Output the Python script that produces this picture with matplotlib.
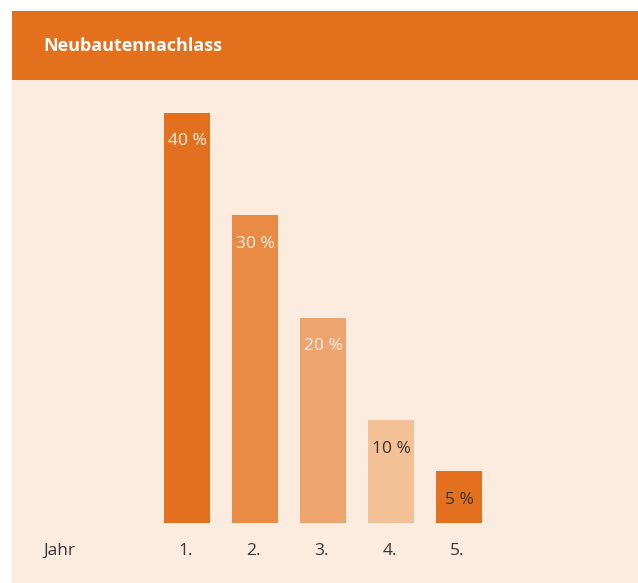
import matplotlib.pyplot as plt
from matplotlib.patches import Rectangle

# data
years = ['1.', '2.', '3.', '4.', '5.']
rates = [40, 30, 20, 10, 5]
rate_labels = ['40 %', '30 %', '20 %', '10 %', '5 %']
bar_colors = ['#E3701E', '#E98A45', '#F0A46D', '#F4C196', '#E3701E']
label_colors = ['#FDF0E4', '#FDF0E4', '#FDF0E4', '#3A3232', '#3A3232']

title = 'Neubautennachlass'
orange = '#E2701D'
panel_bg = '#FCEBDF'
text_dark = '#3A3535'

plt.rcParams['font.family'] = ['Liberation Sans Narrow', 'Open Sans', 'DejaVu Sans']

W, H = 638, 583
fig = plt.figure(figsize=(W / 100, H / 100), dpi=100)
fig.patch.set_facecolor('white')

# panel + header in pixel coordinates
bg = fig.add_axes([0, 0, 1, 1])
bg.set_xlim(0, W)
bg.set_ylim(H, 0)
bg.axis('off')
bg.add_patch(Rectangle((12, 80), W - 12, H - 80, color=panel_bg, lw=0))
bg.add_patch(Rectangle((12, 11), W - 12, 69, color=orange, lw=0))
bg.text(43, 46, title, color='white', fontsize=13, fontweight='bold',
        va='center', ha='left')

# bar axes
ax = fig.add_axes([153 / W, (H - 522.5) / H, 340 / W, 409.5 / H])
ax.patch.set_alpha(0)
ax.set_xlim(-0.5, 4.5)
ax.set_ylim(0, 40)
ax.axis('off')

x = range(len(years))
ax.bar(x, rates, width=46 / 68, color=bar_colors, linewidth=0)

for i, (v, lab, c) in enumerate(zip(rates, rate_labels, label_colors)):
    ax.annotate(lab, (i, v), xytext=(0, -20.5), textcoords='offset points',
                ha='center', va='center', color=c, fontsize=12.5)
    ax.annotate(years[i], (i, 0), xytext=(-1, -20.5), textcoords='offset points',
                ha='center', va='center', color=text_dark, fontsize=12.5)

ax.annotate('Jahr', (-0.5, 0), xytext=(-79, -20.5), textcoords='offset points',
            ha='left', va='center', color=text_dark, fontsize=12.5)

fig.savefig('out.png', dpi=100, facecolor=fig.get_facecolor())
